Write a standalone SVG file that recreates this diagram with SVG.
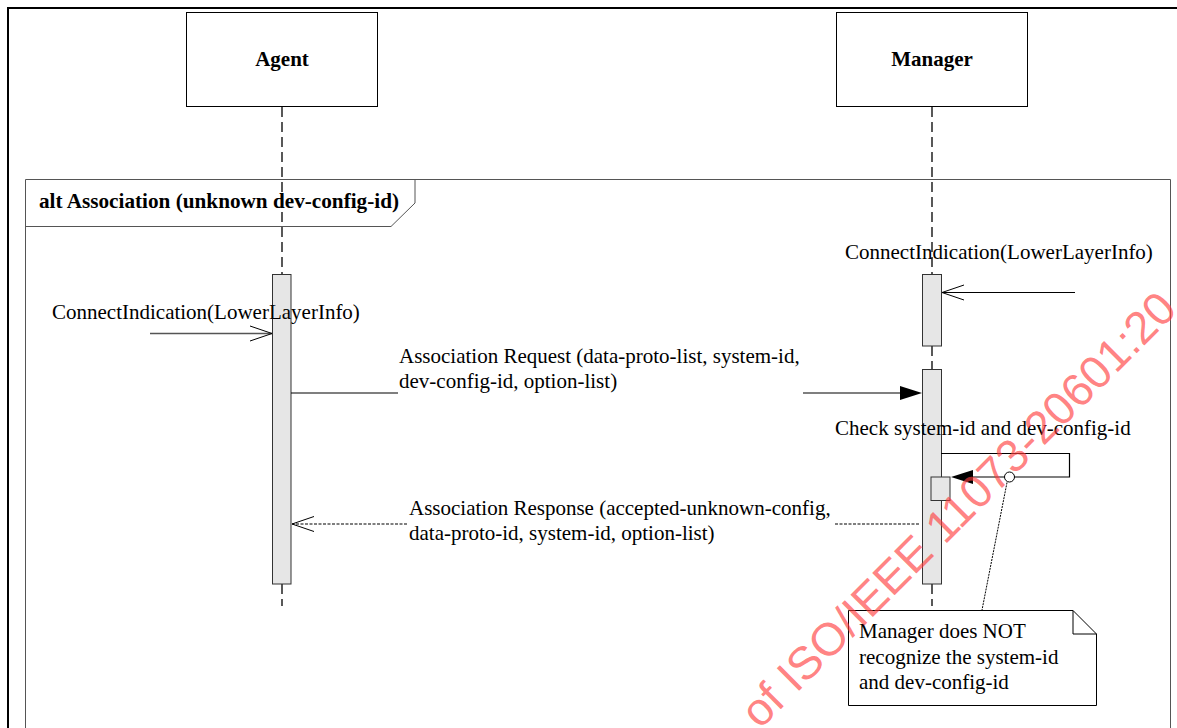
<svg xmlns="http://www.w3.org/2000/svg" width="1177" height="728" viewBox="0 0 1177 728">
<style>
.t{font-family:"Liberation Serif","Times New Roman",serif;font-size:21px;fill:#000}
.b{font-family:"Liberation Serif","Times New Roman",serif;font-size:21px;font-weight:bold;fill:#000}
.life{stroke:#000;stroke-width:1.3;stroke-dasharray:10,5;fill:none}
.act{fill:#e6e6e6;stroke:#333;stroke-width:1}
.msg{stroke:#000;stroke-width:1.2;fill:none}
.dash{stroke:#000;stroke-width:1.2;fill:none;stroke-dasharray:3,1.5}
.open{stroke:#000;stroke-width:1;fill:none}
.fill{fill:#000;stroke:none}
.wm{font-family:"Liberation Sans",Arial,sans-serif;font-size:46px;fill:#ff3b3b;fill-opacity:0.65}
</style>
<rect width="1177" height="728" fill="#fff"/>
<rect x="8" y="8" width="1185" height="740" fill="none" stroke="#000" stroke-width="2"/>

<g id="alt-frame">
<path d="M25.5,740 V179.5 H1170.5 V740" fill="none" stroke="#555" stroke-width="1"/>
<path d="M25.5,226.5 H391 L415,203 V179.5" fill="none" stroke="#555" stroke-width="1"/>
<text class="b" x="39" y="208" textLength="360" lengthAdjust="spacingAndGlyphs">alt Association (unknown dev-config-id)</text>
</g>

<g id="agent">
<rect x="186.5" y="12.5" width="191" height="94" fill="#fff" stroke="#000" stroke-width="1"/>
<text class="b" x="282" y="66" text-anchor="middle">Agent</text>
<line class="life" x1="282" y1="107" x2="282" y2="274"/>
<line class="life" x1="282" y1="584" x2="282" y2="606"/>
<rect class="act" x="272.5" y="274.5" width="18.5" height="309.5"/>
</g>

<g id="manager">
<rect x="836.5" y="12.5" width="191" height="94" fill="#fff" stroke="#000" stroke-width="1"/>
<text class="b" x="932" y="66" text-anchor="middle">Manager</text>
<line class="life" x1="932" y1="107" x2="932" y2="274"/>
<line class="life" x1="932" y1="346" x2="932" y2="369"/>
<line class="life" x1="932" y1="584" x2="932" y2="606"/>
<rect class="act" x="922.5" y="274.5" width="19" height="71.5"/>
<rect class="act" x="922.5" y="369.5" width="19" height="214.5"/>
<rect class="act" x="931" y="477" width="19" height="23.5" stroke="#555"/>
</g>

<g id="connectors">
<line class="msg" x1="1075" y1="292.5" x2="942" y2="292.5"/>
<path class="open" d="M964,285 L942,292.5 L964,300"/>
<line x1="150" y1="333.5" x2="272" y2="333.5" stroke="#555" stroke-width="1.5"/>
<path class="open" d="M250,326 L272,333.5 L250,341"/>
<line class="msg" x1="291" y1="393" x2="398" y2="393"/>
<line class="msg" x1="803" y1="393" x2="902" y2="393"/>
<path class="fill" d="M922,393 L900,386 L900,400 Z"/>
<path class="msg" d="M941,453.5 H1069.5 V477 H972"/>
<path class="fill" d="M951,477 L973,470 L973,484 Z"/>
<line class="dash" x1="919" y1="524" x2="835" y2="524"/>
<line class="dash" x1="407" y1="524" x2="292" y2="524"/>
<path class="open" d="M314,516.5 L292,524 L314,531.5"/>
<line x1="1007" y1="482.5" x2="982" y2="610" stroke="#000" stroke-width="1" stroke-dasharray="2,1"/>
<circle cx="1009.5" cy="477" r="5" fill="#fff" stroke="#000" stroke-width="1"/>
</g>

<g id="labels">
<text class="t" x="845" y="259">ConnectIndication(LowerLayerInfo)</text>
<text class="t" x="52" y="319">ConnectIndication(LowerLayerInfo)</text>
<text class="t" x="399" y="363">Association Request (data-proto-list, system-id,</text>
<text class="t" x="399" y="388">dev-config-id, option-list)</text>
<text class="t" x="835" y="435">Check system-id and dev-config-id</text>
<text class="t" x="409" y="515">Association Response (accepted-unknown-config,</text>
<text class="t" x="409" y="540">data-proto-id, system-id, option-list)</text>
</g>

<g id="note">
<path d="M848.5,610.5 H1073 L1096.5,634 V705.5 H848.5 Z" fill="#fff" stroke="#000" stroke-width="1"/>
<path d="M1073,610.5 V634 H1096.5" fill="none" stroke="#000" stroke-width="1"/>
<text class="t" x="859" y="638">Manager does NOT</text>
<text class="t" x="859" y="664">recognize the system-id</text>
<text class="t" x="859" y="689">and dev-config-id</text>
</g>

<text class="wm" x="760" y="730" transform="rotate(-45 760 730)">of ISO/IEEE 11073-20601:20</text>
</svg>
